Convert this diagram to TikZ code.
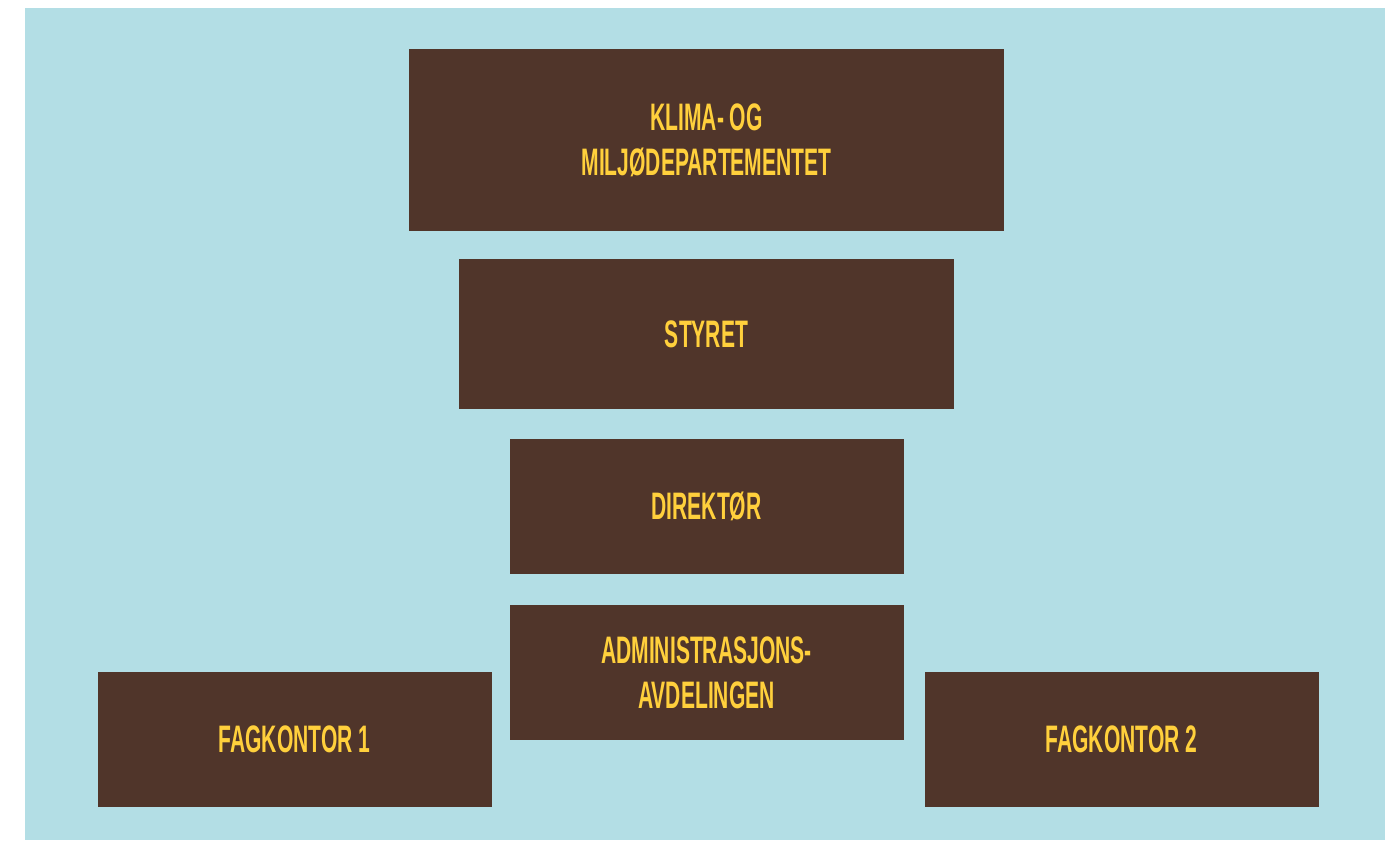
\documentclass[tikz,border=0pt]{standalone}
\usepackage{fontspec}
\setmainfont{Liberation Sans}[FakeStretch=0.55]
\usetikzlibrary{positioning}
\definecolor{skyblue}{HTML}{B3DEE5}
\definecolor{darkbrown}{HTML}{50352A}
\definecolor{signyellow}{HTML}{FFD03C}
\tikzset{
  orgbox/.style={fill=darkbrown, text=signyellow, inner sep=0pt, outer sep=0pt,
    align=center, font=\fontsize{10.9}{12.8}\selectfont\bfseries},
  widebox/.style={orgbox, minimum width=5.95cm, minimum height=1.82cm},
  midbox/.style={orgbox, minimum width=4.95cm, minimum height=1.50cm},
  smallbox/.style={orgbox, minimum width=3.94cm, minimum height=1.35cm}
}
\begin{document}
\begin{tikzpicture}
        \useasboundingbox (0,0) rectangle (13.92,-8.40);
        \fill [skyblue] (0.25,-0.08) rectangle (13.85,-8.40);
        \coordinate (top) at (7.065,-1.40);
        \node [widebox] (klima) at (top) {KLIMA- OG\\MILJØDEPARTEMENTET};
        \node [midbox, below = 0.28 of klima] (styret) {STYRET};
        \node [smallbox, below = 0.30 of styret] (direktor) {DIREKTØR};
        \node [smallbox, below = 0.31 of direktor] (admin) {ADMINISTRASJONS-\\AVDELINGEN};
        \node [smallbox, left = 0.18 of admin, yshift=-0.67cm] (fag_one) {FAGKONTOR 1};
        \node [smallbox, right = 0.21 of admin, yshift=-0.67cm] (fag_two) {FAGKONTOR 2};
    \end{tikzpicture}
\end{document}
